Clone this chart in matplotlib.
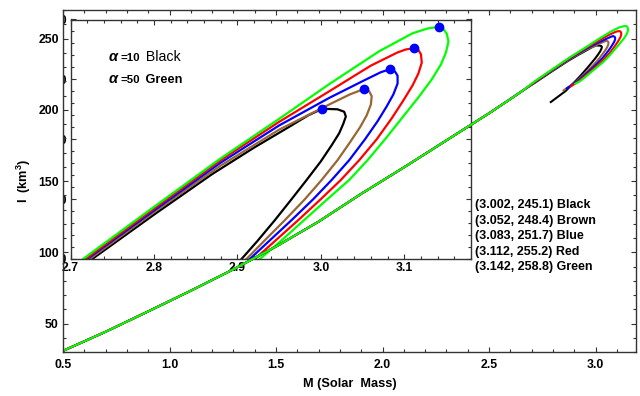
import matplotlib
matplotlib.use('Agg')
import matplotlib.pyplot as plt
from matplotlib.ticker import MultipleLocator
from matplotlib.offsetbox import TextArea, HPacker, AnchoredOffsetbox

plt.rcParams['font.family'] = ['Liberation Sans', 'DejaVu Sans']
plt.rcParams['font.weight'] = 'bold'
plt.rcParams['mathtext.fontset'] = 'custom'
plt.rcParams['mathtext.rm'] = 'Liberation Sans:bold'
plt.rcParams['mathtext.bf'] = 'Liberation Sans:bold'

# low-mass part shared by all five sequences
base_m = [0.50, 0.70, 0.90, 1.10, 1.30, 1.50, 1.70, 1.90, 2.10, 2.30, 2.50, 2.60, 2.66]
base_i = [30.8, 44.2, 58.5, 73.0, 88.0, 104.0, 121.5, 141.0, 159.5, 178.5, 197.5, 207.5, 213.6]

# maximum points (M, I)
names = ['Black', 'Brown', 'Blue', 'Red', 'Green']
colors = ['#000000', '#996633', '#0000ff', '#ff0000', '#00ff00']
peak_m = [3.002, 3.052, 3.083, 3.112, 3.142]
peak_i = [245.1, 248.4, 251.7, 255.2, 258.8]

# branch before the maximum
black_up_m = [2.726, 2.80, 2.87, 2.92, 2.96, 2.985]
black_up_i = [220.0, 227.4, 234.2, 238.6, 241.9, 244.0]
brown_up_m = [2.723, 2.80, 2.88, 2.95, 3.01, 3.035]
brown_up_i = [220.0, 227.8, 235.6, 241.6, 245.8, 247.5]
blue_up_m = [2.720, 2.80, 2.88, 2.95, 3.01, 3.05, 3.072]
blue_up_i = [220.0, 228.1, 236.1, 242.3, 246.9, 249.7, 251.2]
red_up_m = [2.718, 2.80, 2.88, 2.95, 3.01, 3.06, 3.092, 3.102]
red_up_i = [220.0, 228.4, 236.5, 242.9, 248.0, 252.3, 254.5, 255.0]
green_up_m = [2.715, 2.80, 2.88, 2.95, 3.01, 3.07, 3.11, 3.128]
green_up_i = [220.0, 228.7, 236.8, 243.4, 249.2, 254.7, 257.7, 258.5]

# branch after the maximum
black_lo_m = [3.020, 3.028, 3.030, 3.027, 3.022, 3.013, 3.000, 2.983, 2.965, 2.945, 2.924,
              2.905, 2.86, 2.79]
black_lo_i = [245.0, 244.6, 243.8, 242.6, 241.0, 239.0, 236.3, 233.2, 230.0, 226.5, 223.0,
              220.0, 213.2, 205.4]
brown_lo_m = [3.058, 3.061, 3.060, 3.055, 3.047, 3.035, 3.020, 3.001, 2.981, 2.957, 2.932,
              2.911, 2.88, 2.85]
brown_lo_i = [248.0, 247.2, 245.8, 244.0, 242.0, 239.5, 236.5, 233.2, 230.0, 226.5, 223.0,
              220.0, 216.6, 213.6]
blue_lo_m = [3.089, 3.092, 3.092, 3.087, 3.079, 3.068, 3.053, 3.034, 3.013, 2.991, 2.965,
             2.938, 2.915, 2.89, 2.865]
blue_lo_i = [251.3, 250.6, 249.3, 247.5, 245.5, 243.0, 240.0, 236.5, 233.2, 230.0, 226.5,
             223.0, 220.0, 217.5, 215.0]
red_lo_m = [3.117, 3.120, 3.121, 3.117, 3.110, 3.099, 3.085, 3.067, 3.046, 3.024, 3.000,
            2.973, 2.945, 2.921, 2.885]
red_lo_i = [254.9, 254.2, 252.8, 251.0, 249.0, 246.5, 243.5, 240.0, 236.5, 233.2, 230.0,
            226.5, 223.0, 220.0, 216.5]
green_lo_m = [3.147, 3.151, 3.153, 3.150, 3.144, 3.133, 3.117, 3.097, 3.077, 3.056, 3.034,
              3.008, 2.980, 2.952, 2.927, 2.905]
green_lo_i = [258.4, 257.6, 256.3, 254.5, 252.5, 250.0, 247.0, 243.5, 240.0, 236.5, 233.2,
              230.0, 226.5, 223.0, 220.0, 218.2]

branches = [
    (black_up_m, black_up_i, black_lo_m, black_lo_i),
    (brown_up_m, brown_up_i, brown_lo_m, brown_lo_i),
    (blue_up_m, blue_up_i, blue_lo_m, blue_lo_i),
    (red_up_m, red_up_i, red_lo_m, red_lo_i),
    (green_up_m, green_up_i, green_lo_m, green_lo_i),
]


def build_curve(k):
    up_m, up_i, lo_m, lo_i = branches[k]
    m = base_m + up_m + [peak_m[k]] + lo_m
    i = base_i + up_i + [peak_i[k]] + lo_i
    return m, i


def style_ticks(a, size):
    a.tick_params(which='both', direction='in', top=True, right=True,
                  labelsize=size, width=0.8, color='#333333')
    a.tick_params(which='major', length=3.6)
    a.tick_params(which='minor', length=2.0)
    for s in a.spines.values():
        s.set_linewidth(1.0)
        s.set_color('#333333')


fig = plt.figure(figsize=(6.4, 3.96), dpi=100)
ax = fig.add_axes([63 / 640, 44 / 396, 573 / 640, 342 / 396])

# inset sits under the main curves
axins = ax.inset_axes([70.5 / 640, 137 / 396, 400.5 / 640, 239.5 / 396],
                      transform=fig.transFigure, zorder=1)

for k in range(len(names)):
    m, i = build_curve(k)
    ax.plot(m, i, color=colors[k], lw=1.5, zorder=2 + k * 0.01, solid_joinstyle='round')
    axins.plot(m, i, color=colors[k], lw=1.6, solid_joinstyle='round')

axins.plot(peak_m, peak_i, 'o', color='#0000ff', ms=6, zorder=5)

ax.set_xlim(0.5, 3.19)
ax.set_ylim(30, 270)
ax.xaxis.set_major_locator(MultipleLocator(0.5))
ax.xaxis.set_minor_locator(MultipleLocator(0.1))
ax.yaxis.set_major_locator(MultipleLocator(50))
ax.yaxis.set_minor_locator(MultipleLocator(10))
style_ticks(ax, 8.8)
ax.tick_params(axis='y', pad=3)
ax.tick_params(axis='x', pad=5)

axins.set_xlim(2.7, 3.18)
axins.set_ylim(220, 260)
axins.xaxis.set_major_locator(MultipleLocator(0.1))
axins.xaxis.set_minor_locator(MultipleLocator(0.02))
axins.yaxis.set_major_locator(MultipleLocator(10))
axins.yaxis.set_minor_locator(MultipleLocator(2))
style_ticks(axins, 8.8)
axins.tick_params(axis='both', pad=2.5)
# the inset's y labels disappear behind the outer frame
for lbl in axins.get_yticklabels():
    lbl.set_clip_box(ax.bbox)

ax.set_xlabel('M (Solar  Mass)', fontsize=9.2, fontweight='bold')
ax.xaxis.set_label_coords(0.5, -0.075)
ax.set_ylabel(r'I  (km$^{3}$)', fontsize=9.2, fontweight='bold')
ax.yaxis.set_label_coords(-0.052, 0.5)

# alpha labels
row1 = HPacker(children=[
    TextArea('α', textprops=dict(fontsize=10.5, fontweight='bold', fontstyle='italic')),
    TextArea('=10', textprops=dict(fontsize=8.2, fontweight='bold')),
    TextArea(' Black', textprops=dict(fontsize=10.2, fontweight='normal')),
], align='baseline', pad=0, sep=1.5)
row2 = HPacker(children=[
    TextArea('α', textprops=dict(fontsize=10.5, fontweight='bold', fontstyle='italic')),
    TextArea('=50', textprops=dict(fontsize=8.2, fontweight='bold')),
    TextArea(' Green', textprops=dict(fontsize=9.2, fontweight='bold')),
], align='baseline', pad=0, sep=1.5)
for row, ypx in [(row1, 64), (row2, 86)]:
    box = AnchoredOffsetbox(loc='lower left', child=row, pad=0, borderpad=0,
                            frameon=False, bbox_to_anchor=(109 / 640, 1 - ypx / 396),
                            bbox_transform=fig.transFigure)
    fig.add_artist(box)

# maximum values listed beside the inset
for k in range(len(names)):
    fig.text(475 / 640, 1 - (208 + 15.5 * k) / 396,
             f'({peak_m[k]:.3f}, {peak_i[k]:.1f}) {names[k]}',
             fontsize=9, fontweight='bold', va='baseline', ha='left')

fig.savefig('out.png', dpi=100)
